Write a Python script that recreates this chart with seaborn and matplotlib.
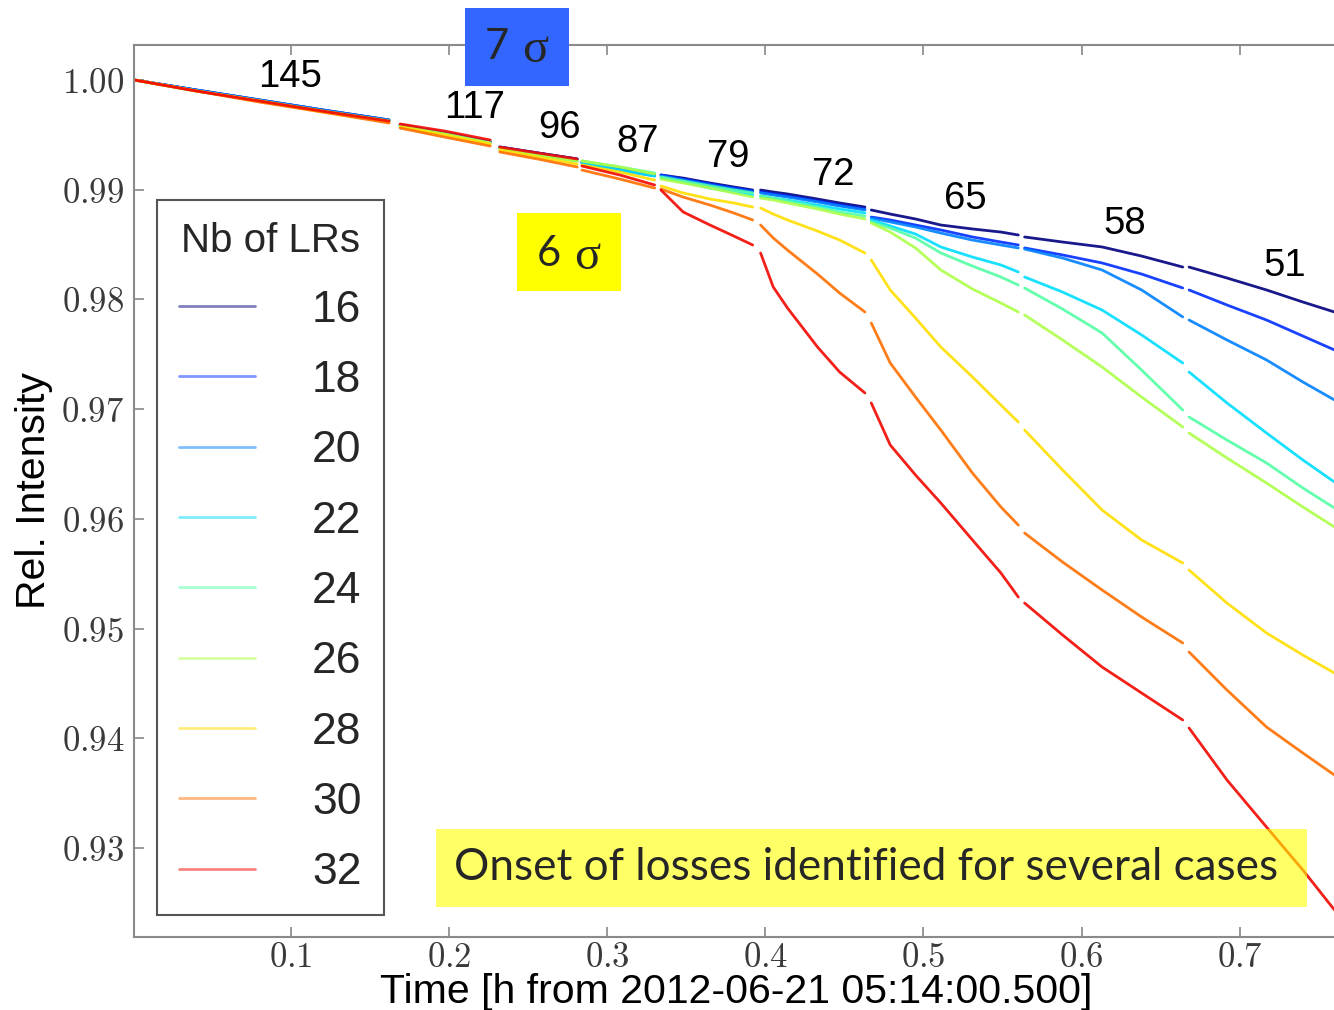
import numpy as np
import pandas as pd
import matplotlib
matplotlib.use("Agg")
import matplotlib.pyplot as plt
from matplotlib.lines import Line2D
from matplotlib.patches import Rectangle
from matplotlib.ticker import FuncFormatter
import seaborn as sns

nan = float("nan")

# Time in hours; a NaN in a series marks the pause between two collimator steps
time_h = [0.001, 0.040, 0.080, 0.120, 0.162, 0.1655,
          0.169, 0.197, 0.226, 0.229,
          0.232, 0.256, 0.281, 0.2825,
          0.284, 0.308, 0.330, 0.332,
          0.334, 0.348, 0.365, 0.380, 0.392, 0.3945,
          0.397, 0.405, 0.414, 0.433, 0.447, 0.463, 0.465,
          0.467, 0.479, 0.495, 0.511, 0.531, 0.549, 0.560, 0.562,
          0.564, 0.588, 0.613, 0.638, 0.664, 0.666,
          0.668, 0.692, 0.717, 0.740, 0.760]

lr16 = [1.00000, 0.99909, 0.99818, 0.99727, 0.99635, nan,
        0.99590, 0.99517, 0.99435, nan,
        0.99389, 0.99335, 0.99280, nan,
        0.99252, 0.99189, 0.99134, nan,
        0.99134, 0.99106, 0.99061, 0.99025, 0.98997, nan,
        0.98997, 0.98979, 0.98961, 0.98915, 0.98879, 0.98842, nan,
        0.98815, 0.98778, 0.98733, 0.98678, 0.98642, 0.98614, 0.98587, nan,
        0.98569, 0.98523, 0.98478, 0.98395, 0.98295, nan,
        0.98295, 0.98195, 0.98086, 0.97976, 0.97885]

lr18 = [1.00000, 0.99909, 0.99818, 0.99727, 0.99635, nan,
        0.99590, 0.99517, 0.99435, nan,
        0.99389, 0.99335, 0.99280, nan,
        0.99252, 0.99189, 0.99134, nan,
        0.99134, 0.99097, 0.99052, 0.99015, 0.98988, nan,
        0.98979, 0.98961, 0.98942, 0.98897, 0.98860, 0.98824, nan,
        0.98751, 0.98724, 0.98678, 0.98633, 0.98569, 0.98523, 0.98496, nan,
        0.98469, 0.98405, 0.98332, 0.98231, 0.98104, nan,
        0.98086, 0.97949, 0.97812, 0.97666, 0.97539]

lr20 = [1.00000, 0.99909, 0.99818, 0.99727, 0.99635, nan,
        0.99590, 0.99517, 0.99435, nan,
        0.99380, 0.99325, 0.99271, nan,
        0.99243, 0.99179, 0.99125, nan,
        0.99125, 0.99088, 0.99043, 0.99006, 0.98979, nan,
        0.98970, 0.98952, 0.98933, 0.98888, 0.98851, 0.98815, nan,
        0.98742, 0.98706, 0.98660, 0.98605, 0.98541, 0.98496, 0.98469, nan,
        0.98459, 0.98377, 0.98268, 0.98086, 0.97840, nan,
        0.97812, 0.97630, 0.97448, 0.97247, 0.97083]

lr22 = [1.00000, 0.99900, 0.99809, 0.99717, 0.99626, nan,
        0.99581, 0.99508, 0.99426, nan,
        0.99380, 0.99316, 0.99262, nan,
        0.99243, 0.99179, 0.99125, nan,
        0.99106, 0.99070, 0.99015, 0.98979, 0.98952, nan,
        0.98942, 0.98924, 0.98906, 0.98860, 0.98824, 0.98788, nan,
        0.98724, 0.98669, 0.98596, 0.98478, 0.98386, 0.98314, 0.98250, nan,
        0.98204, 0.98067, 0.97903, 0.97676, 0.97420, nan,
        0.97338, 0.97056, 0.96782, 0.96536, 0.96335]

lr24 = [1.00000, 0.99900, 0.99809, 0.99717, 0.99626, nan,
        0.99581, 0.99508, 0.99426, nan,
        0.99380, 0.99316, 0.99262, nan,
        0.99262, 0.99207, 0.99152, nan,
        0.99116, 0.99079, 0.99034, 0.98997, 0.98970, nan,
        0.98942, 0.98924, 0.98897, 0.98842, 0.98797, 0.98760, nan,
        0.98706, 0.98651, 0.98559, 0.98423, 0.98304, 0.98204, 0.98131, nan,
        0.98104, 0.97912, 0.97694, 0.97356, 0.96992, nan,
        0.96928, 0.96718, 0.96509, 0.96281, 0.96098]

lr26 = [1.00000, 0.99900, 0.99809, 0.99717, 0.99626, nan,
        0.99581, 0.99508, 0.99426, nan,
        0.99380, 0.99316, 0.99262, nan,
        0.99262, 0.99207, 0.99143, nan,
        0.99097, 0.99061, 0.99015, 0.98970, 0.98933, nan,
        0.98924, 0.98906, 0.98879, 0.98824, 0.98778, 0.98733, nan,
        0.98696, 0.98614, 0.98469, 0.98268, 0.98095, 0.97967, 0.97885, nan,
        0.97858, 0.97630, 0.97384, 0.97110, 0.96837, nan,
        0.96782, 0.96554, 0.96326, 0.96108, 0.95925]

lr28 = [1.00000, 0.99900, 0.99809, 0.99708, 0.99617, nan,
        0.99572, 0.99499, 0.99417, nan,
        0.99362, 0.99298, 0.99234, nan,
        0.99225, 0.99161, 0.99088, nan,
        0.99034, 0.98970, 0.98915, 0.98879, 0.98842, nan,
        0.98833, 0.98778, 0.98724, 0.98623, 0.98541, 0.98423, nan,
        0.98359, 0.98086, 0.97830, 0.97566, 0.97293, 0.97037, 0.96882, nan,
        0.96809, 0.96445, 0.96080, 0.95807, 0.95597, nan,
        0.95533, 0.95232, 0.94959, 0.94758, 0.94594]

lr30 = [1.00000, 0.99900, 0.99799, 0.99708, 0.99608, nan,
        0.99562, 0.99480, 0.99398, nan,
        0.99344, 0.99280, 0.99207, nan,
        0.99179, 0.99097, 0.99015, nan,
        0.99006, 0.98933, 0.98860, 0.98788, 0.98724, nan,
        0.98678, 0.98560, 0.98450, 0.98231, 0.98058, 0.97885, nan,
        0.97785, 0.97420, 0.97110, 0.96809, 0.96417, 0.96108, 0.95943, nan,
        0.95870, 0.95606, 0.95351, 0.95105, 0.94868, nan,
        0.94786, 0.94439, 0.94102, 0.93865, 0.93664]

lr32 = [1.00000, 0.99900, 0.99809, 0.99717, 0.99626, nan,
        0.99599, 0.99535, 0.99453, nan,
        0.99389, 0.99335, 0.99280, nan,
        0.99216, 0.99134, 0.99043, nan,
        0.98997, 0.98797, 0.98678, 0.98578, 0.98496, nan,
        0.98423, 0.98113, 0.97922, 0.97566, 0.97338, 0.97147, nan,
        0.97056, 0.96673, 0.96399, 0.96144, 0.95807, 0.95506, 0.95287, nan,
        0.95232, 0.94941, 0.94649, 0.94412, 0.94166, nan,
        0.94093, 0.93619, 0.93190, 0.92798, 0.92434]

lr_counts = ["16", "18", "20", "22", "24", "26", "28", "30", "32"]
series = [lr16, lr18, lr20, lr22, lr24, lr26, lr28, lr30, lr32]

# Collimator setting reached at each step
step_labels = ["145", "117", "96", "87", "79", "72", "65", "58", "51"]
step_label_t = [0.0994, 0.2164, 0.2701, 0.3195, 0.3764, 0.4428, 0.5263, 0.6275, 0.7287]
step_label_v = [1.00027, 0.99745, 0.99562, 0.99435, 0.99298, 0.99134, 0.98915, 0.98687, 0.98304]

x_ticks = [0.1, 0.2, 0.3, 0.4, 0.5, 0.6, 0.7]
y_ticks = [0.93, 0.94, 0.95, 0.96, 0.97, 0.98, 0.99, 1.00]

# ---- long-form table, one "segment" id per uninterrupted stretch ----
rows = []
for lab, vals in zip(lr_counts, series):
    seg = 0
    for t, v in zip(time_h, vals):
        if np.isnan(v):
            seg += 1
            continue
        rows.append({"time": t, "intensity": v, "lrs": lab, "segment": f"{lab}-{seg}"})
df = pd.DataFrame(rows)

jet = plt.get_cmap("jet")
cmap_pos = [0.0, 0.17, 0.25, 0.34, 0.45, 0.56, 0.675, 0.79, 0.9]
colors = [jet(x) for x in cmap_pos]
palette = dict(zip(lr_counts, colors))

sns.set_theme(style="ticks")
plt.rcParams["font.family"] = ["Liberation Sans", "DejaVu Sans"]
plt.rcParams["mathtext.fontset"] = "cm"

W, H = 1334, 1010
fig = plt.figure(figsize=(W / 100, H / 100), dpi=100)
fig.patch.set_facecolor("white")
ax = fig.add_axes([134 / W, 73 / H, 1204 / W, 892 / H])

sns.lineplot(data=df, x="time", y="intensity", hue="lrs", units="segment",
             estimator=None, sort=False, palette=palette, hue_order=lr_counts,
             legend=False, linewidth=2.0, alpha=0.9, ax=ax)

ax.set_xlim(0.0007, 0.7622)
ax.set_ylim(0.92188, 1.00319)
ax.set_xticks(x_ticks)
ax.set_yticks(y_ticks)
ax.xaxis.set_major_formatter(FuncFormatter(lambda v, p: f"${v:.1f}$"))
ax.yaxis.set_major_formatter(FuncFormatter(lambda v, p: f"${v:.2f}$"))
ax.tick_params(axis="both", direction="in", length=7, width=1.2, color="#888888",
               labelsize=25, labelcolor="#3a3a3a")
ax.tick_params(axis="x", top=True, pad=3)
ax.tick_params(axis="y", pad=7)
for sp in ax.spines.values():
    sp.set_color("#8a8a8a")
    sp.set_linewidth(1.5)

ax.set_xlabel("Time [h from 2012-06-21 05:14:00.500]", fontsize=29.5, labelpad=-1, color="black")
ax.set_ylabel("Rel. Intensity", fontsize=29.5, labelpad=6, color="black")

for txt, t, v in zip(step_labels, step_label_t, step_label_v):
    ax.text(t, v, txt, fontsize=27.5, ha="center", va="center", color="black", zorder=6)

handles = [Line2D([], [], color=c, lw=2.0, alpha=0.5) for c in colors]
leg = ax.legend(handles, lr_counts, title="Nb of LRs", loc="upper left",
                bbox_to_anchor=(157 / W, 1 - 200 / H), bbox_transform=fig.transFigure,
                fontsize=32, title_fontsize=29, frameon=True, fancybox=False,
                edgecolor="#555555", framealpha=1.0, handlelength=1.7,
                handletextpad=1.29, labelspacing=0.66, borderpad=0.5, borderaxespad=0)
leg.get_frame().set_linewidth(1.5)
leg.set_zorder(7)

# Annotation boxes in figure pixels
def fig_box(x0, y0, x1, y1, **kw):
    fig.add_artist(Rectangle((x0 / W, 1 - y1 / H), (x1 - x0) / W, (y1 - y0) / H,
                             transform=fig.transFigure, edgecolor="none", zorder=8, **kw))

fig_box(465, 8, 569, 86, facecolor="#3366ff")
fig.text(497 / W, 1 - 47 / H, "7", fontsize=30, family=["Lato", "DejaVu Sans"],
         ha="center", va="center", zorder=9)
fig.text(535 / W, 1 - 50 / H, "σ", fontsize=35, family=["Liberation Serif", "DejaVu Serif"],
         ha="center", va="center", zorder=9)

fig_box(517, 213, 621, 291, facecolor="#ffff00")
fig.text(549 / W, 1 - 254 / H, "6", fontsize=30, family=["Lato", "DejaVu Sans"],
         ha="center", va="center", zorder=9)
fig.text(587 / W, 1 - 257 / H, "σ", fontsize=35, family=["Liberation Serif", "DejaVu Serif"],
         ha="center", va="center", zorder=9)

fig_box(436, 829, 1307, 907, facecolor="#ffff00", alpha=0.6)
fig.text(866 / W, 1 - 868 / H, "Onset of losses identified for several cases", fontsize=31.7,
         family=["Lato", "DejaVu Sans"], ha="center", va="center", zorder=9)

fig.savefig("out.png", dpi=100, facecolor="white")
